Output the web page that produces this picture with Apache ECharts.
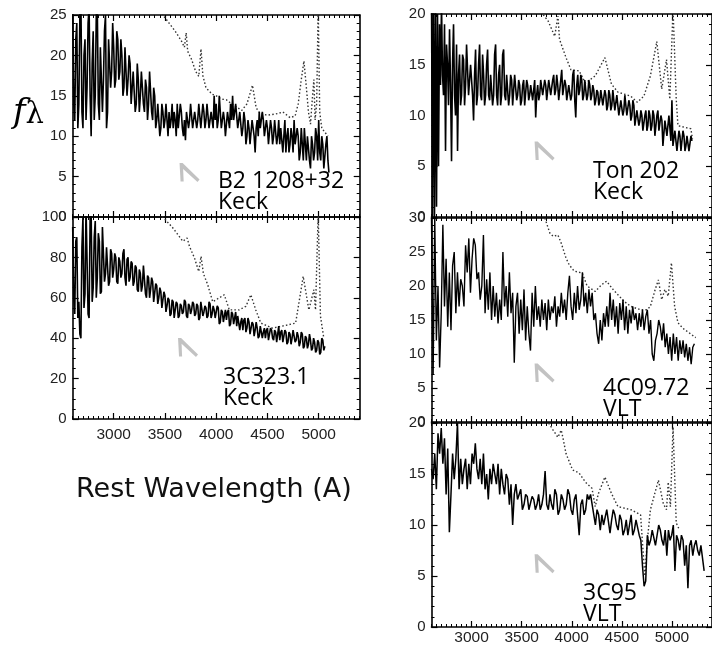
<!DOCTYPE html>
<html><head><meta charset="utf-8">
<script src="https://cdn.jsdelivr.net/npm/echarts@6/dist/echarts.min.js"></script>
<style>html,body{margin:0;padding:0;background:#fff}#c{width:712px;height:651px}</style>
</head><body><div id="c"></div>
<script>
// ---------- data ----------
const xTickValues = [3000, 3500, 4000, 4500, 5000];
const panelNames = ['B2 1208+32\nKeck', '3C323.1\nKeck', 'Ton 202\nKeck', '4C09.72\nVLT', '3C95\nVLT'];
const yMax = [25, 100, 20, 30, 20];
const yStep = [5, 20, 5, 5, 5];
const yMinorSplit = [5, 4, 5, 5, 5];

// observed spectra (flux sampled from start wavelength with fixed step)
const specStart = [2600, 2600, 2600, 2600, 2600];
const specStep = [10, 10, 10, 16.2, 16.2];

const flux1 = [26,14,12,22,24,11,14,25,27,13,
 11,20,22,12,16,24,26,15,10,19,
 23,12,15,25,26,14,12,21,21,13,
 17,23,25,11,13,22,22,16,18,24,
 21,16,17,23,22,17,18,22,20,15,
 16,21,21,15,17,20,19,14,16,18,
 18,13,14,19,17,13,15,18,18,14,
 13,17,16,12,14,18,18,13,12,16,
 15,11,12,14,14,10,11,14,13,11,
 12,14,14,10,13,11,12,14,11,13,
 12,10,14,11,11,14,13,11,10,12,
 9.5,13,13,11,12,14,14,11,11,13,
 13,11,12,14,14,11,11,14,13,11,
 12,14,14,11,12,13,13,11,15,12,
 14,11,12,15,15,11,11,13,12,10,
 10,13,13,11,14,12,15,12,13,14,
 14,11,12,13,13,10,11,13,12,9,
 10,12,11,9,9,12,12,10,8,11,
 12,10,13,11,11,13,12,10,10,12,
 11,9,9,12,11,9,10,12,12,9,
 10,12,9,11,11,8,10,12,8,10,
 11,8,9,11,10,8,12,9,9,11,
 10,7,8,11,9,7,11,9,7,10,
 10,7,6,10,9,7,8,11,10,7,
 12,8,7,10,9,6,6,9,10,7,
 5.5];

const flux2 = [95,60,52,88,90,50,58,42,40,85,
 100,55,62,105,105,52,50,100,102,58,
 65,90,98,60,70,92,88,62,63,95,
 95,68,72,85,85,66,68,84,82,70,
 74,82,80,68,67,80,78,70,72,82,
 84,70,66,79,80,68,70,78,77,66,
 68,76,75,64,63,74,72,63,66,76,
 76,62,60,71,70,60,64,70,68,58,
 58,67,66,57,60,65,63,55,55,63,
 61,53,56,60,59,51,52,59,58,50,
 54,58,57,50,51,57,56,52,53,59,
 58,51,50,57,56,52,54,58,57,51,
 52,57,56,49,50,58,58,51,53,56,
 55,50,51,58,57,50,52,56,54,50,
 50,56,55,47,48,54,53,48,51,54,
 49,53,54,46,47,53,52,47,50,53,
 46,51,51,44,48,50,44,49,50,43,
 45,50,48,42,42,48,47,41,44,48,
 45,40,41,46,46,40,43,45,40,44,
 45,39,42,45,44,40,39,44,43,38,
 42,46,39,43,44,38,41,44,43,37,
 38,43,42,37,40,44,44,38,39,43,
 41,36,38,43,42,35,36,41,40,35,
 37,42,39,34,35,40,38,33,34,39,
 38,32,33,40,39,34,36];

const flux3 = [22,0,22,0,21,1,20,5,19,13,
 21,14,12,19,6.5,17,15,11,18.5,13,
 5.5,15,19,12,10,17,6.5,14,16,11,
 12,16,15.5,11,13,17,17,12,12,15,
 15,12,9.5,14,16.5,11,12,15,17,12,
 11.5,16,14,11,12,15,16.5,12,11.5,14,
 14,11,12,16,17,12,11,14,15,11,
 12,16,16.5,12,11.5,14,14,11,12,14,
 13.5,11,11,14,14,11.5,12,13.5,13,11,
 11.5,13,13.5,11,11,13.5,13,11.5,12,13,
 13,11.5,11.5,13.5,9.8,12,13,11.5,12,13.5,
 13.5,12,12,13.5,13,11.5,12.5,13.5,13.5,12,
 12,13.5,14,12,12.5,14,13,11.5,11.5,13.5,
 14.5,12,12,13.5,13,11.5,11.5,13,13,11.5,
 12,14,14.5,11.5,9.8,13,14,12,12.5,14,
 13.5,11.5,12,13.5,13.5,11.5,12,13.5,13,11.5,
 12,13,12.5,11,11.5,12.5,12.3,11,11.5,12.5,
 12.5,11,11,12.5,12,10.5,11,12.5,12,10.5,
 11,12.5,12.5,10.5,10.5,12,12,10,10,11.5,
 11.5,10,10.5,12,12,10,10,11.5,11,9.5,
 10,11.5,11,9,9,10.5,10.5,9,9.5,10.5,
 10,8.5,8.5,10,10.5,8.5,9,10.5,10,8.5,
 9,10.5,10,8,8,10,10.5,8.5,8.5,10,
 9.5,7,7,9.5,9.5,8,8,10,10,7.5,
 11.5,7,7,8.5,8.5,6.5,7.5,8.5,8,6.5,
 6.5,8.5,8,6.5,7,8,8,6.5,6.5,8,
 7.5];

const flux4 = [30,7,30,12,20,8,16,29,17,24,
 14,22,13.5,23,25,16,22,17,21,20,
 17,26,22,27,19,24,27,26,21,22,
 18,20,27.5,16,21,16.5,22,15,20,15.5,
 19,14.5,18,15,25,17,20,15.5,22,16,
 19,8.7,17,19,13,18,13.5,19.5,12,17,
 13,10.5,19,14,20,15,17,14,18,15,
 17.5,13.5,18,15,17,16,18.5,14,17,15.5,
 19,16,18,15,19,21.5,17,15,19,16,
 20,16.5,18,22,17,19,16,19.5,17,19,
 15,16,13,11.5,15,12,16,14,17,14,
 19,15,18,14,17,13,17.5,15,18,13.5,
 17,13,16.5,14.5,17,15,16,13.5,16,14,
 16.5,13.5,15.5,16.5,13,15,10,9,12,13,
 15,14,12,14.5,11,13,10,12.5,9,13,
 10,12.5,9,12,10,12,9.5,11.5,9,11,
 8.5,11,11.5];

const flux5 = [15.5,14.5,17,13.5,19,17,19.5,16,18.5,13,
 17.5,9.3,13,17,14.5,16.5,20,13.5,16.5,14,
 15.5,16.5,13.5,16,14,17,16,18,15.5,14.5,
 16.5,14,17,13.5,15,12.5,15.5,14,16,15,
 14,16,13,15.5,14,13,15,14.5,12,14,
 10,13,14,12.5,13,13.5,11.5,12,13,12.8,
 11.5,11.5,12.8,12.5,11.5,12,13,11.5,12,13,
 15.3,12,11.5,13,12,11.5,13.5,13,11,11.5,
 13,12.5,11.5,12,13.5,13,11.5,11,12.5,13,
 11,9,12,12.5,11,11.5,13,12.5,13,12,
 11,10,11.5,11,9.5,11,10,10,11.5,11.5,
 9.2,10.5,11.5,11,10,9.5,11,10.5,9,9.5,
 10.5,9,10,11,9,9.5,10.5,10.5,9,8.5,
 6,4,4.5,9,8,8.5,9.5,9.5,8,8,
 10,9.5,8.5,8,9.5,7,9.5,8.5,9,10,
 5.5,9,8.5,7.5,9,8.5,6,8,3.8,8,
 8.5,7,8,8.5,7.5,7,8,8,5.5];

// composite template spectra (dotted): [wavelength, flux]
const tmpl1 = [[3440,26.5],[3480,25],[3540,24],[3600,23],[3660,21.8],[3690,21],[3707,22.8],[3722,20.5],[3760,19.5],[3800,18],[3830,17.4],[3852,20.8],[3870,17.5],[3900,16],[3960,15.2],[4000,15],[4050,14.6],[4100,14.5],[4150,14],[4200,13.6],[4250,13.2],[4300,14],[4354,16.3],[4390,13.5],[4430,12.8],[4500,12.6],[4600,12.8],[4650,13],[4720,12.3],[4770,12.5],[4800,14],[4830,17],[4856,19.3],[4880,16],[4900,13],[4920,11.5],[4940,15],[4953,17],[4965,12],[4980,14],[4995,26],[5010,13],[5030,11],[5060,10.5],[5090,10]];
const tmpl2 = [[3460,102],[3480,100],[3577,94.6],[3674,88],[3716,89.6],[3739,85.5],[3788,79.7],[3830,73],[3852,80.5],[3875,72],[3917,66.5],[3966,58],[4030,60],[4079,61.5],[4128,54],[4225,54],[4290,55.8],[4338,61.5],[4386,54],[4435,47.5],[4548,45],[4645,46],[4710,46.7],[4775,47.5],[4849,70.6],[4904,54],[4953,64],[4969,54],[4995,102],[5017,51],[5050,40]];
const tmpl3 = [[3670,20.5],[3765,19.3],[3830,17.8],[3862,19.8],[3878,17.5],[3943,15.7],[3992,14.5],[4073,14.4],[4137,13.2],[4234,13.9],[4331,15.7],[4396,13.1],[4461,12.3],[4590,11.9],[4655,11.3],[4720,11.9],[4785,13.9],[4849,17.3],[4898,12.6],[4946,15.5],[4979,11.6],[5011,20.5],[5043,11.6],[5060,9],[5140,8.8],[5189,8.7],[5205,7.7]];
const tmpl4 = [[3720,30.5],[3781,27.8],[3814,27.3],[3862,27.5],[3895,26.3],[3943,24.1],[3975,23.1],[4024,22.2],[4105,21.9],[4153,20],[4234,19.2],[4299,20.2],[4348,20.7],[4412,19.5],[4461,18.7],[4526,17.7],[4590,17],[4687,16.5],[4752,16.5],[4785,17],[4833,19.5],[4865,20.9],[4898,18],[4930,19.5],[4963,18.5],[4995,23.4],[5027,17],[5060,14.6],[5108,13.8],[5173,13.1],[5238,12.4]];
const tmpl5 = [[3750,20.3],[3814,19.3],[3862,18.6],[3895,19.3],[3911,18.6],[3943,17],[4008,15.4],[4073,15.1],[4137,14.2],[4202,13.6],[4234,11.8],[4267,13.1],[4331,14.7],[4396,13.1],[4461,11.8],[4590,11.5],[4687,11],[4713,7.3],[4730,5],[4752,8.2],[4785,11.5],[4865,14.4],[4914,12.1],[4946,11.5],[4963,14.2],[4985,11.8],[5011,19.6],[5043,10.2],[5076,9.5]];

// grey marker position in each panel [wavelength, flux]
const markerPos = [[3740,5.5],[3725,35.4],[3729,6.5],[3729,7.2],[3729,6.2]];

const fluxes = [flux1, flux2, flux3, flux4, flux5];
const templates = [tmpl1, tmpl2, tmpl3, tmpl4, tmpl5];

// ---------- layout ----------
const grids = [
  {left: 72.7, top: 15, width: 287, height: 202},
  {left: 72.7, top: 217, width: 287, height: 202},
  {left: 431.5, top: 14, width: 289, height: 203},
  {left: 431.5, top: 218, width: 289, height: 204},
  {left: 431.5, top: 423, width: 289, height: 204}
];
const showXLabels = [false, true, false, false, true];
const xLabelMargin = [8, 8, 8, 8, 3];
const labelPos = [[218,169.5],[223,365.5],[593,159.5],[603,376.5],[583,581.5]];
const specWidth = [1.6, 1.6, 1.6, 1.4, 1.5];

const tickFont = 'Liberation Sans';
const lineCol = '#000';

const xAxes = [], yAxes = [], series = [], graphics = [];
grids.forEach((g, i) => {
  ['bottom', 'top'].forEach(pos => {
    xAxes.push({
      gridIndex: i, type: 'value', min: 2600, max: 5400, position: pos,
      axisLine: {show: true, onZero: false, lineStyle: {color: lineCol, width: 1.6}},
      axisTick: {show: true, inside: true, length: 6, customValues: xTickValues, lineStyle: {color: lineCol, width: 1.2}},
      axisLabel: {show: pos === 'bottom' && showXLabels[i], customValues: xTickValues, margin: xLabelMargin[i],
        fontSize: 15.5, color: '#222', fontFamily: tickFont, formatter: v => String(v)},
      splitLine: {show: false}
    });
    xAxes.push({
      gridIndex: i, type: 'value', min: 2600, max: 5400, interval: 50, position: pos,
      axisLine: {show: false, onZero: false},
      axisTick: {show: true, inside: true, length: 3, lineStyle: {color: lineCol, width: 1}},
      axisLabel: {show: false}, splitLine: {show: false}
    });
  });
  ['left', 'right'].forEach(pos => {
    yAxes.push({
      gridIndex: i, type: 'value', min: 0, max: yMax[i], interval: yStep[i], position: pos,
      axisLine: {show: true, onZero: false, lineStyle: {color: lineCol, width: 1.6}},
      axisTick: {show: true, inside: true, length: 6, lineStyle: {color: lineCol, width: 1.2}},
      minorTick: {show: true, splitNumber: yMinorSplit[i], length: 3, lineStyle: {color: lineCol, width: 1}},
      axisLabel: {show: pos === 'left', margin: 6, fontSize: 15, color: '#222', fontFamily: tickFont},
      splitLine: {show: false}, minorSplitLine: {show: false}
    });
  });
  const xi = i * 4, yi = i * 2;
  series.push({
    type: 'line', xAxisIndex: xi, yAxisIndex: yi, symbol: 'none', clip: true,
    lineStyle: {color: '#000', width: specWidth[i]},
    data: fluxes[i].map((v, k) => [specStart[i] + k * specStep[i], v]),
    z: 3
  });
  series.push({
    type: 'line', xAxisIndex: xi, yAxisIndex: yi, symbol: 'none', clip: true,
    lineStyle: {color: '#333', width: 1.4, type: [1.5, 2.2]},
    data: templates[i], z: 2
  });
  series.push({
    type: 'scatter', xAxisIndex: xi, yAxisIndex: yi, silent: true,
    symbol: 'path://M1,0 L7,0 L40,34 L36,39 L8,12 L9,38 L3,38 Z',
    symbolSize: [20, 19], itemStyle: {color: '#b3b3b3'},
    data: [markerPos[i]], z: 1
  });
  graphics.push({
    type: 'text', left: labelPos[i][0], top: labelPos[i][1],
    style: {text: panelNames[i], font: '23px "Open Sans"', lineHeight: 21, fill: '#000'}
  });
});

graphics.push({
  type: 'text', left: 76, top: 476,
  style: {text: 'Rest Wavelength (A)', font: '27px "DejaVu Sans"', fill: '#111'}
});
graphics.push({
  type: 'text', left: 13, top: 96,
  style: {
    text: '{f|f}{l|λ}',
    rich: {
      f: {font: 'italic 34px "DejaVu Serif"', fill: '#000'},
      l: {font: '29px "DejaVu Serif"', fill: '#000', verticalAlign: 'bottom'}
    }
  }
});

const chart = echarts.init(document.getElementById('c'));
chart.setOption({
  animation: false,
  backgroundColor: '#fff',
  grid: grids.map(g => Object.assign({containLabel: false}, g)),
  xAxis: xAxes, yAxis: yAxes, series: series, graphic: graphics
});
</script></body></html>
